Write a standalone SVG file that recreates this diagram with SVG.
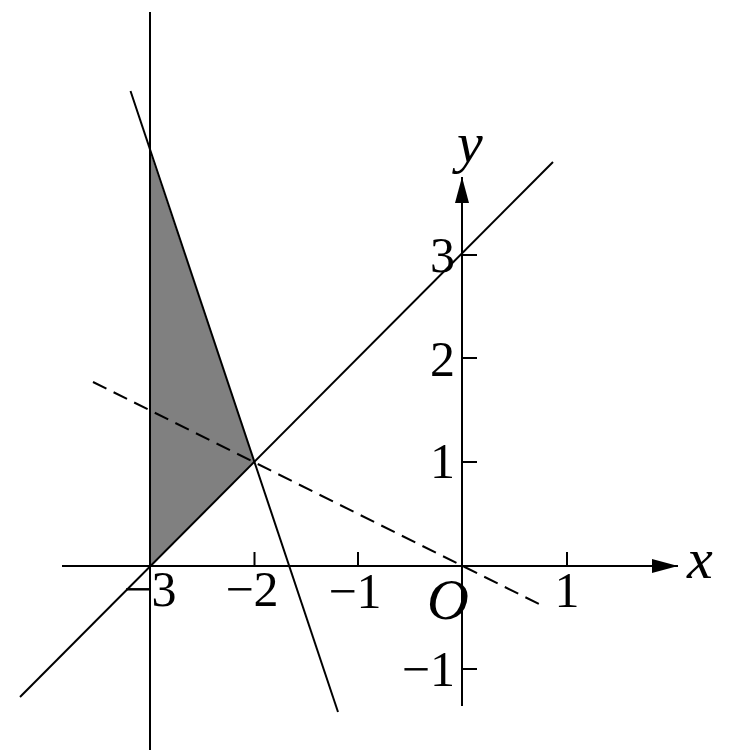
<svg xmlns="http://www.w3.org/2000/svg" width="734" height="754" viewBox="0 0 734 754">
<style>
.ln{stroke:#000;stroke-width:2;fill:none}
.dash{stroke:#000;stroke-width:2;fill:none;stroke-dasharray:15 8}
.num{font-family:"Liberation Serif","Times New Roman",serif;font-size:50px;fill:#000}
.var{font-family:"Liberation Serif","Times New Roman",serif;font-size:58px;font-style:italic;fill:#000}
</style>
<defs>
<marker id="arr" markerWidth="26" markerHeight="14" refX="26" refY="7" orient="auto" markerUnits="userSpaceOnUse">
<path d="M0,0 L26,7 L0,14 Z" fill="#000"/>
</marker>
</defs>
<rect width="734" height="754" fill="#fff"/>
<g id="region">
<polygon points="150,152 254.5,462 150,566" fill="#808080" stroke="none"/>
</g>
<g id="connectors">
<line id="axis-x" class="ln" x1="62" y1="566" x2="678" y2="566" marker-end="url(#arr)"/>
<line id="axis-y" class="ln" x1="462" y1="706" x2="462" y2="177" marker-end="url(#arr)"/>
<g id="ticks" class="ln">
<line x1="254.5" y1="566" x2="254.5" y2="552"/>
<line x1="358" y1="566" x2="358" y2="552"/>
<line x1="567" y1="566" x2="567" y2="552"/>
<line x1="462" y1="462" x2="477" y2="462"/>
<line x1="462" y1="358" x2="477" y2="358"/>
<line x1="462" y1="255" x2="477" y2="255"/>
<line x1="462" y1="669" x2="477" y2="669"/>
</g>
<line id="line-x-eq-m3" class="ln" x1="150" y1="12" x2="150" y2="750"/>
<line id="line-y-eq-x-plus-3" class="ln" x1="20" y1="697" x2="553" y2="162"/>
<line id="line-steep" class="ln" x1="130.5" y1="91" x2="338" y2="712"/>
<line id="line-dashed" class="dash" x1="93" y1="382" x2="543" y2="606"/>
</g>
<g id="labels">
<text class="var" x="457" y="162">y</text>
<text class="var" x="687" y="578">x</text>
<text class="var" x="427" y="619">O</text>
<text class="num" x="455" y="272" text-anchor="end">3</text>
<text class="num" x="455" y="376" text-anchor="end">2</text>
<text class="num" x="455" y="478" text-anchor="end">1</text>
<text class="num" x="455" y="686" text-anchor="end">−1</text>
<text class="num" x="150" y="606" text-anchor="middle">−3</text>
<text class="num" x="252" y="606" text-anchor="middle">−2</text>
<text class="num" x="355" y="608" text-anchor="middle">−1</text>
<text class="num" x="567" y="607" text-anchor="middle">1</text>
</g>
</svg>
